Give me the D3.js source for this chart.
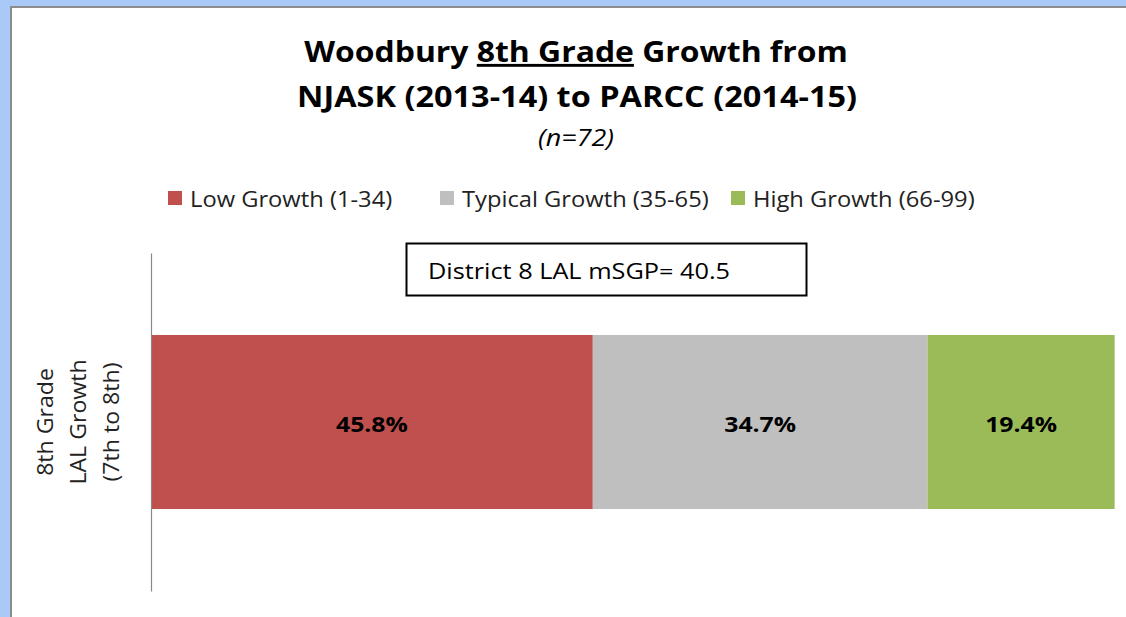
<!DOCTYPE html>
<html><head><meta charset="utf-8">
<script src="https://cdn.jsdelivr.net/npm/d3@7"></script>
<style>html,body{margin:0;padding:0;background:#fff;overflow:hidden}</style>
</head><body>
<svg id="c" width="1126" height="617"></svg>
<script>
const categories = ["8th Grade LAL Growth (7th to 8th)"];
const seriesNames = ["Low Growth (1-34)", "Typical Growth (35-65)", "High Growth (66-99)"];
const seriesValues = [45.8, 34.7, 19.4];
const seriesColors = ["#C0504D", "#BFBFBF", "#9BBB59"];
const titleLines = ["Woodbury ", "8th Grade", " Growth from", "NJASK (2013-14) to PARCC (2014-15)"];
const subtitle = "(n=72)";
const annotation = "District 8 LAL mSGP= 40.5";
const yLabelLines = ["8th Grade", "LAL Growth", "(7th to 8th)"];

const font = "'Open Sans', sans-serif";
const svg = d3.select("#c");
function txt(parent, x, y, sx) {
  return parent.append("text").attr("transform", `translate(${x},${y}) scale(${sx},1)`)
    .attr("font-family", font).attr("fill", "#000");
}
// slide frame
svg.append("rect").attr("x",0).attr("y",0).attr("width",1126).attr("height",617).attr("fill","#A9C9F6");
svg.append("rect").attr("x",10).attr("y",6).attr("width",1116).attr("height",611).attr("fill","#8C8C8C");
svg.append("rect").attr("x",12).attr("y",8).attr("width",1114).attr("height",609).attr("fill","#fff");

// title
const t1 = txt(svg, 576, 62, 1.1).attr("text-anchor","middle").attr("font-weight","bold").attr("font-size",29);
t1.append("tspan").text(titleLines[0]);
t1.append("tspan").attr("text-decoration","underline").text(titleLines[1]);
t1.append("tspan").text(titleLines[2]);
txt(svg, 577, 107, 1.12).attr("text-anchor","middle").attr("font-weight","bold").attr("font-size",29).text(titleLines[3]);
txt(svg, 576, 146, 1.17).attr("text-anchor","middle").attr("font-style","italic").attr("font-size",23).text(subtitle);

// legend
const legX = [168, 440, 731];
const lg = svg.append("g");
seriesNames.forEach((n,i)=>{
  lg.append("rect").attr("x",legX[i]).attr("y",191).attr("width",14).attr("height",14).attr("fill",seriesColors[i]);
  txt(lg, legX[i]+22, 207, 1.13).attr("font-size",21).attr("fill","#222").text(n);
});

// scales
const x = d3.scaleLinear().domain([0, 100]).range([151, 1115.6]);
const y = d3.scaleBand().domain(categories).range([253, 591]).paddingInner(0).paddingOuter(0.471);

let cum = 0;
const stacks = seriesValues.map((v,i)=>{ const s={x0:cum,x1:cum+v,v,i}; cum+=v; return s; });
svg.append("g").selectAll("rect").data(stacks).join("rect")
  .attr("x",d=>x(d.x0)).attr("width",d=>x(d.x1)-x(d.x0))
  .attr("y",y(categories[0])).attr("height",y.bandwidth())
  .attr("fill",d=>seriesColors[d.i]);
const lblG = svg.append("g");
stacks.forEach(d=>{
  txt(lblG, (x(d.x0)+x(d.x1))/2, y(categories[0])+y.bandwidth()/2+10, 1.18)
    .attr("text-anchor","middle").attr("font-weight","bold").attr("font-size",21)
    .text(d.v.toFixed(1)+"%");
});

// axis line
const ax = d3.axisLeft(y).tickSize(0).tickFormat("");
const axg = svg.append("g").attr("transform","translate(151,0)").call(ax);
axg.select(".domain").attr("stroke","#888").attr("stroke-width",1.2);

// y label
const yl = svg.append("text").attr("transform","translate(53,422) rotate(-90) scale(1.1,1)")
  .attr("text-anchor","middle").attr("font-family",font).attr("font-size",21).attr("fill","#222");
yLabelLines.forEach((l,i)=>yl.append("tspan").attr("x",0).attr("dy", i===0 ? 0 : 33).text(l));

// annotation box
svg.append("rect").attr("x",406.5).attr("y",243.5).attr("width",400).attr("height",52)
  .attr("fill","#fff").attr("stroke","#000").attr("stroke-width",2);
txt(svg, 579, 279, 1.15).attr("text-anchor","middle").attr("font-size",22).text(annotation);
</script>
</body></html>
